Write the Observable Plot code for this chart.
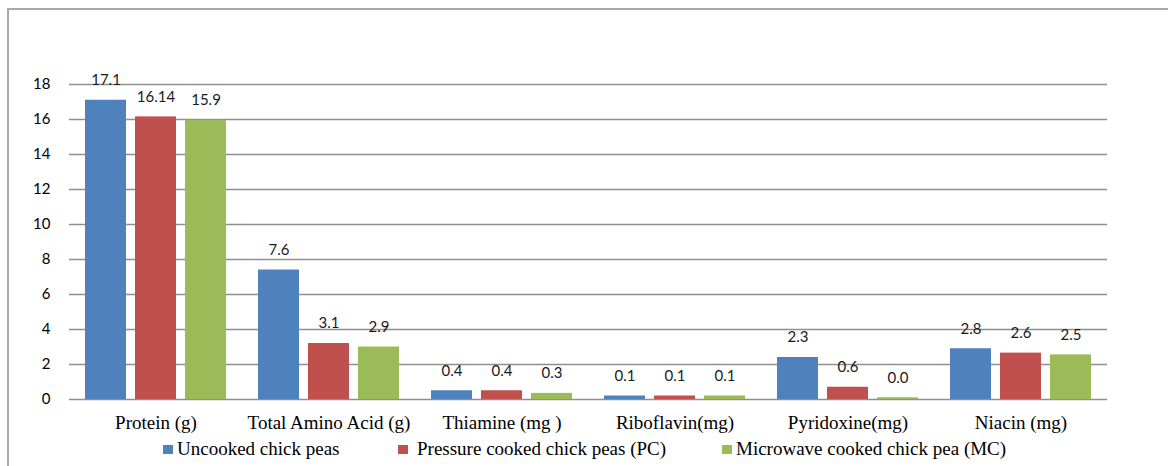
<!DOCTYPE html>
<html>
<head>
<meta charset="utf-8">
<script src="https://cdn.jsdelivr.net/npm/d3@7"></script>
<script src="https://cdn.jsdelivr.net/npm/@observablehq/plot@0.6"></script>
<style>
  html, body { margin: 0; padding: 0; background: #fff; }
  #wrap { position: relative; width: 1168px; height: 466px; overflow: hidden; }
  #frame { position: absolute; left: 7px; top: 8px; right: -10px; bottom: -10px;
           border-left: 2px solid #a9a9a9; border-top: 2px solid #a9a9a9; pointer-events: none; }
  #legend { position: absolute; left: 0; top: 436px; width: 1168px; height: 30px;
            font-family: "Liberation Serif", "Times New Roman", serif; font-size: 19px; color: #000; }
  .item { position: absolute; top: 3px; white-space: nowrap; line-height: 19px; }
  .sw { display: inline-block; width: 10px; height: 9px; margin-right: 4px; vertical-align: 1px; }
  .fxaxis text { font-family: "Liberation Serif", "Times New Roman", serif; }
</style>
</head>
<body>
<div id="wrap">
  <div id="chart"></div>
  <div id="legend"></div>
  <div id="frame"></div>
</div>
<script>
const categories = ["Protein (g)", "Total Amino Acid (g)", "Thiamine (mg )", "Riboflavin(mg)", "Pyridoxine(mg)", "Niacin (mg)"];
const series = ["Uncooked chick peas", "Pressure cooked chick peas (PC)", "Microwave cooked chick pea (MC)"];
const colors = ["#4F81BD", "#C0504D", "#9BBB59"];

// bar heights as drawn
const uncooked  = [17.1, 7.4, 0.5, 0.2, 2.4, 2.9];
const pressure  = [16.15, 3.2, 0.5, 0.2, 0.7, 2.65];
const microwave = [15.95, 3.0, 0.35, 0.2, 0.1, 2.55];

// printed data labels
const uncookedLabels  = ["17.1", "7.6", "0.4", "0.1", "2.3", "2.8"];
const pressureLabels  = ["16.14", "3.1", "0.4", "0.1", "0.6", "2.6"];
const microwaveLabels = ["15.9", "2.9", "0.3", "0.1", "0.0", "2.5"];

const yTicks = [0, 2, 4, 6, 8, 10, 12, 14, 16, 18];

const valueSets = [uncooked, pressure, microwave];
const labelSets = [uncookedLabels, pressureLabels, microwaveLabels];
const rows = [];
categories.forEach((c, i) => {
  series.forEach((s, j) => {
    rows.push({category: c, series: s, value: valueSets[j][i], label: labelSets[j][i]});
  });
});

const plot = Plot.plot({
  width: 1168,
  height: 436,
  marginLeft: 67,
  marginRight: 59,
  marginTop: 84,
  marginBottom: 37,
  style: {fontFamily: "Lato, sans-serif", fontSize: "15px", color: "#000", background: "transparent"},
  fx: {domain: categories, padding: 0, label: null},
  x: {domain: series, paddingInner: 0.188, paddingOuter: 0.317, axis: null},
  y: {domain: [0, 18], ticks: yTicks, label: null},
  color: {domain: series, range: colors},
  marks: [
    Plot.ruleY(yTicks, {stroke: "#8f8f8f", strokeWidth: 1.4}),
    Plot.barY(rows, {fx: "category", x: "series", y: "value", fill: "series"}),
    Plot.text(rows, {fx: "category", x: "series", y: "value", text: "label", dy: -20,
                     lineAnchor: "middle", fill: "#1a1a1a", fontSize: 15}),
    Plot.axisY(yTicks, {tickSize: 0, tickPadding: 19, fontSize: 15, label: null}),
    Plot.axisFx({anchor: "bottom", tickSize: 0, tickPadding: 16, label: null, className: "fxaxis",
                 fontFamily: "'Liberation Serif', 'Times New Roman', serif", fontSize: 19})
  ]
});
document.getElementById("chart").appendChild(plot);

const legendLeft = [163, 398, 722];
const legend = document.getElementById("legend");
series.forEach((s, j) => {
  const item = document.createElement("div");
  item.className = "item";
  item.style.left = legendLeft[j] + "px";
  const sw = document.createElement("span");
  sw.className = "sw";
  sw.style.background = colors[j];
  if (j === 1) sw.style.marginRight = "9px";
  item.appendChild(sw);
  item.appendChild(document.createTextNode(s));
  legend.appendChild(item);
});
</script>
</body>
</html>
